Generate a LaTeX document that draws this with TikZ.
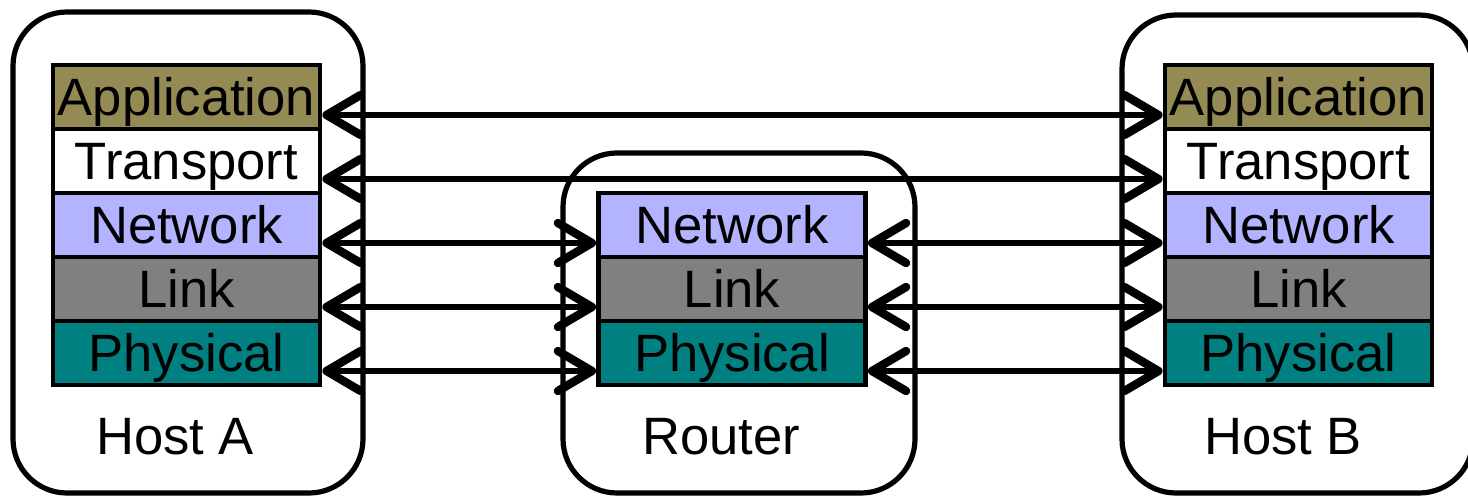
\documentclass[tikz,border=0pt]{standalone}
\usepackage{fontspec}
\setmainfont{Liberation Sans}
\usetikzlibrary{arrows.meta}
\definecolor{appc}{RGB}{148,138,84}
\definecolor{netc}{RGB}{179,179,255}
\definecolor{linkc}{RGB}{128,128,128}
\definecolor{phyc}{RGB}{0,128,128}
\begin{document}
\begin{tikzpicture}[x=0.5pt,y=-0.5pt,
  frame/.style={draw, line width=2.6pt, rounded corners=27pt, inner sep=0pt},
  layer/.style={draw, line width=2.4pt, minimum width=133.5pt, minimum height=32pt, inner sep=0pt, text height=19pt, text depth=1pt, font=\fontsize{26.3}{30}\selectfont},
  lab/.style={font=\fontsize{26.3}{30}\selectfont, inner sep=0pt},
  barb/.tip={Straight Barb[length=17pt,width=20pt,line width=4.2pt,round]},
  link/.style={line width=2.9pt, line cap=round, barb-barb}]
\useasboundingbox (0,0) rectangle (1468,498);
% frames
\node[frame, minimum width=175pt, minimum height=240.5pt] (hostA) at (188,252.5) {};
\node[frame, minimum width=176pt, minimum height=170pt] (router) at (739,323) {};
\node[frame, minimum width=175.5pt, minimum height=239pt] (hostB) at (1297.5,254) {};
% Host A layers
\node[layer, fill=appc]  (aApp)  at (186.5,97)  {Application};
\node[layer, fill=white] (aTra)  at (186.5,161) {Transport};
\node[layer, fill=netc]  (aNet)  at (186.5,225) {Network};
\node[layer, fill=linkc] (aLnk)  at (186.5,289) {Link};
\node[layer, fill=phyc]  (aPhy)  at (186.5,353) {Physical};
% Router layers
\node[layer, fill=netc]  (rNet)  at (732,225) {Network};
\node[layer, fill=linkc] (rLnk)  at (732,289) {Link};
\node[layer, fill=phyc]  (rPhy)  at (732,353) {Physical};
% Host B layers
\node[layer, fill=appc]  (bApp)  at (1298.5,97)  {Application};
\node[layer, fill=white] (bTra)  at (1298.5,161) {Transport};
\node[layer, fill=netc]  (bNet)  at (1298.5,225) {Network};
\node[layer, fill=linkc] (bLnk)  at (1298.5,289) {Link};
\node[layer, fill=phyc]  (bPhy)  at (1298.5,353) {Physical};
% labels
\node[lab] (labA) at (175,437) {Host A};
\node[lab] (labR) at (721,437) {Router};
\node[lab] (labB) at (1283,437) {Host B};
% arrows
\draw[link] ([yshift=-9pt]aApp.east) -- ([yshift=-9pt]bApp.west);
\draw[link] ([yshift=-9pt]aTra.east) -- ([yshift=-9pt]bTra.west);
\draw[link] ([yshift=-9pt]aNet.east) -- ([yshift=-9pt]rNet.west);
\draw[link] ([yshift=-9pt]aLnk.east) -- ([yshift=-9pt]rLnk.west);
\draw[link] ([yshift=-9pt]aPhy.east) -- ([yshift=-9pt]rPhy.west);
\draw[link] ([yshift=-9pt]rNet.east) -- ([yshift=-9pt]bNet.west);
\draw[link] ([yshift=-9pt]rLnk.east) -- ([yshift=-9pt]bLnk.west);
\draw[link] ([yshift=-9pt]rPhy.east) -- ([yshift=-9pt]bPhy.west);
\end{tikzpicture}
\end{document}
